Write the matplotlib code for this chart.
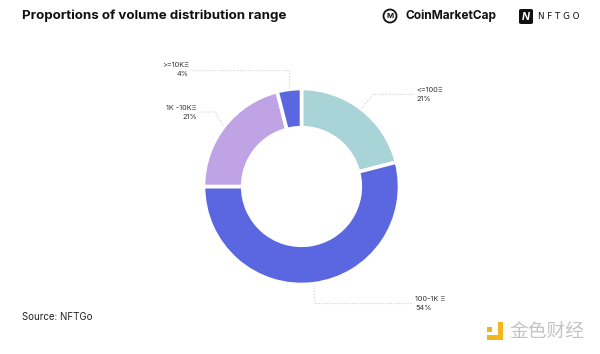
import numpy as np
import matplotlib.pyplot as plt
from matplotlib.patches import Circle, FancyBboxPatch, Rectangle
from matplotlib.transforms import IdentityTransform

# data
labels = ['<=100Ξ', '100-1K Ξ', '1K -10KΞ', '>=10KΞ']
shares = [21, 54, 21, 4]
colors = ['#a8d4d8', '#5b67e0', '#c0a3e5', '#5b67e0']

# leader layout (pie data units): elbow x (None = straight from anchor), elbow y, end x
elbow_x = [0.73, None, -0.88, None]
elbow_y = [0.94, -1.19, 0.76, 1.19]
end_x = [1.15, 1.14, -1.04, -1.12]

W, H = 600, 354


def fx(x):
    return x / W


def fy(y):
    return 1 - y / H


fig = plt.figure(figsize=(6, 3.54), dpi=100)
fig.patch.set_facecolor('white')

# donut
cx, cy, r = 301.5, 186.5, 98
ax = fig.add_axes([fx(cx - r), fy(cy + r), 2 * r / W, 2 * r / H])
wedges, _ = ax.pie(shares, colors=colors, startangle=90, counterclock=False,
                   wedgeprops=dict(width=0.4, edgecolor='white', linewidth=2.6))
ax.set_xlim(-1, 1)
ax.set_ylim(-1, 1)
ax.set_aspect('equal')
ax.axis('off')

# labels with dotted leader lines
for i, w in enumerate(wedges):
    ang = np.deg2rad((w.theta1 + w.theta2) / 2)
    ax0, ay0 = 1.01 * np.cos(ang), 1.01 * np.sin(ang)
    ex = ax0 if elbow_x[i] is None else elbow_x[i]
    ey = elbow_y[i]
    ax.plot([ax0, ex, end_x[i]], [ay0, ey, ey], color='#d0d0d0', lw=0.8,
            ls=(0, (1, 1.5)), clip_on=False)
    right = end_x[i] > 0
    tx = end_x[i] + (0.02 if right else -0.03)
    ax.text(tx, ey, f'{labels[i]}\n{shares[i]}%', ha='left' if right else 'right',
            va='center', fontsize=5.3, color='#333333', linespacing=1.6,
            family=['Inter', 'DejaVu Sans'], clip_on=False)

# title and source
fig.text(fx(22), fy(16), 'Proportions of volume distribution range', fontsize=9.6,
         fontweight='bold', family='Inter', color='#111111', va='center', ha='left')
fig.text(fx(22), fy(317), 'Source: NFTGo', fontsize=7, family='Inter',
         color='#222222', va='center', ha='left')

# CoinMarketCap logo
fig.patches.append(Circle((390, H - 16), 6.5, transform=IdentityTransform(),
                          fill=False, lw=1.3, ec='#111111'))
fig.text(fx(390), fy(16.5), 'M', fontsize=5.5, fontweight='bold', family='Inter',
         ha='center', va='center', color='#111111')
fig.text(fx(406), fy(16), 'CoinMarketCap', fontsize=8.6, fontweight='bold',
         family='Inter', ha='left', va='center', color='#111111')

# NFTGO logo
fig.patches.append(FancyBboxPatch((fx(519), fy(24)), 14 / W, 15 / H,
                                  boxstyle='round,pad=0,rounding_size=0.004',
                                  transform=fig.transFigure, fc='#111111', ec='none'))
fig.text(fx(526), fy(16.5), 'N', fontsize=7.5, fontweight='bold', family='Inter',
         ha='center', va='center', color='white', fontstyle='italic')
fig.text(fx(538), fy(16.5), 'N F T G O', fontsize=6.3, family='DejaVu Sans',
         ha='left', va='center', color='#111111')

# watermark
fig.patches.append(Rectangle((fx(487), fy(332)), 5 / W, 5 / H,
                             transform=fig.transFigure, fc='#f2b51c', ec='none'))
fig.patches.append(Rectangle((fx(498), fy(340)), 5 / W, 18 / H,
                             transform=fig.transFigure, fc='#f2b51c', ec='none'))
fig.patches.append(Rectangle((fx(487), fy(340)), 16 / W, 5 / H,
                             transform=fig.transFigure, fc='#f2b51c', ec='none'))
fig.text(fx(509), fy(331), '金色财经', fontsize=13.5, family='Noto Sans CJK SC',
         ha='left', va='center', color='#c4c4c4')

fig.savefig('out.png', dpi=100)
